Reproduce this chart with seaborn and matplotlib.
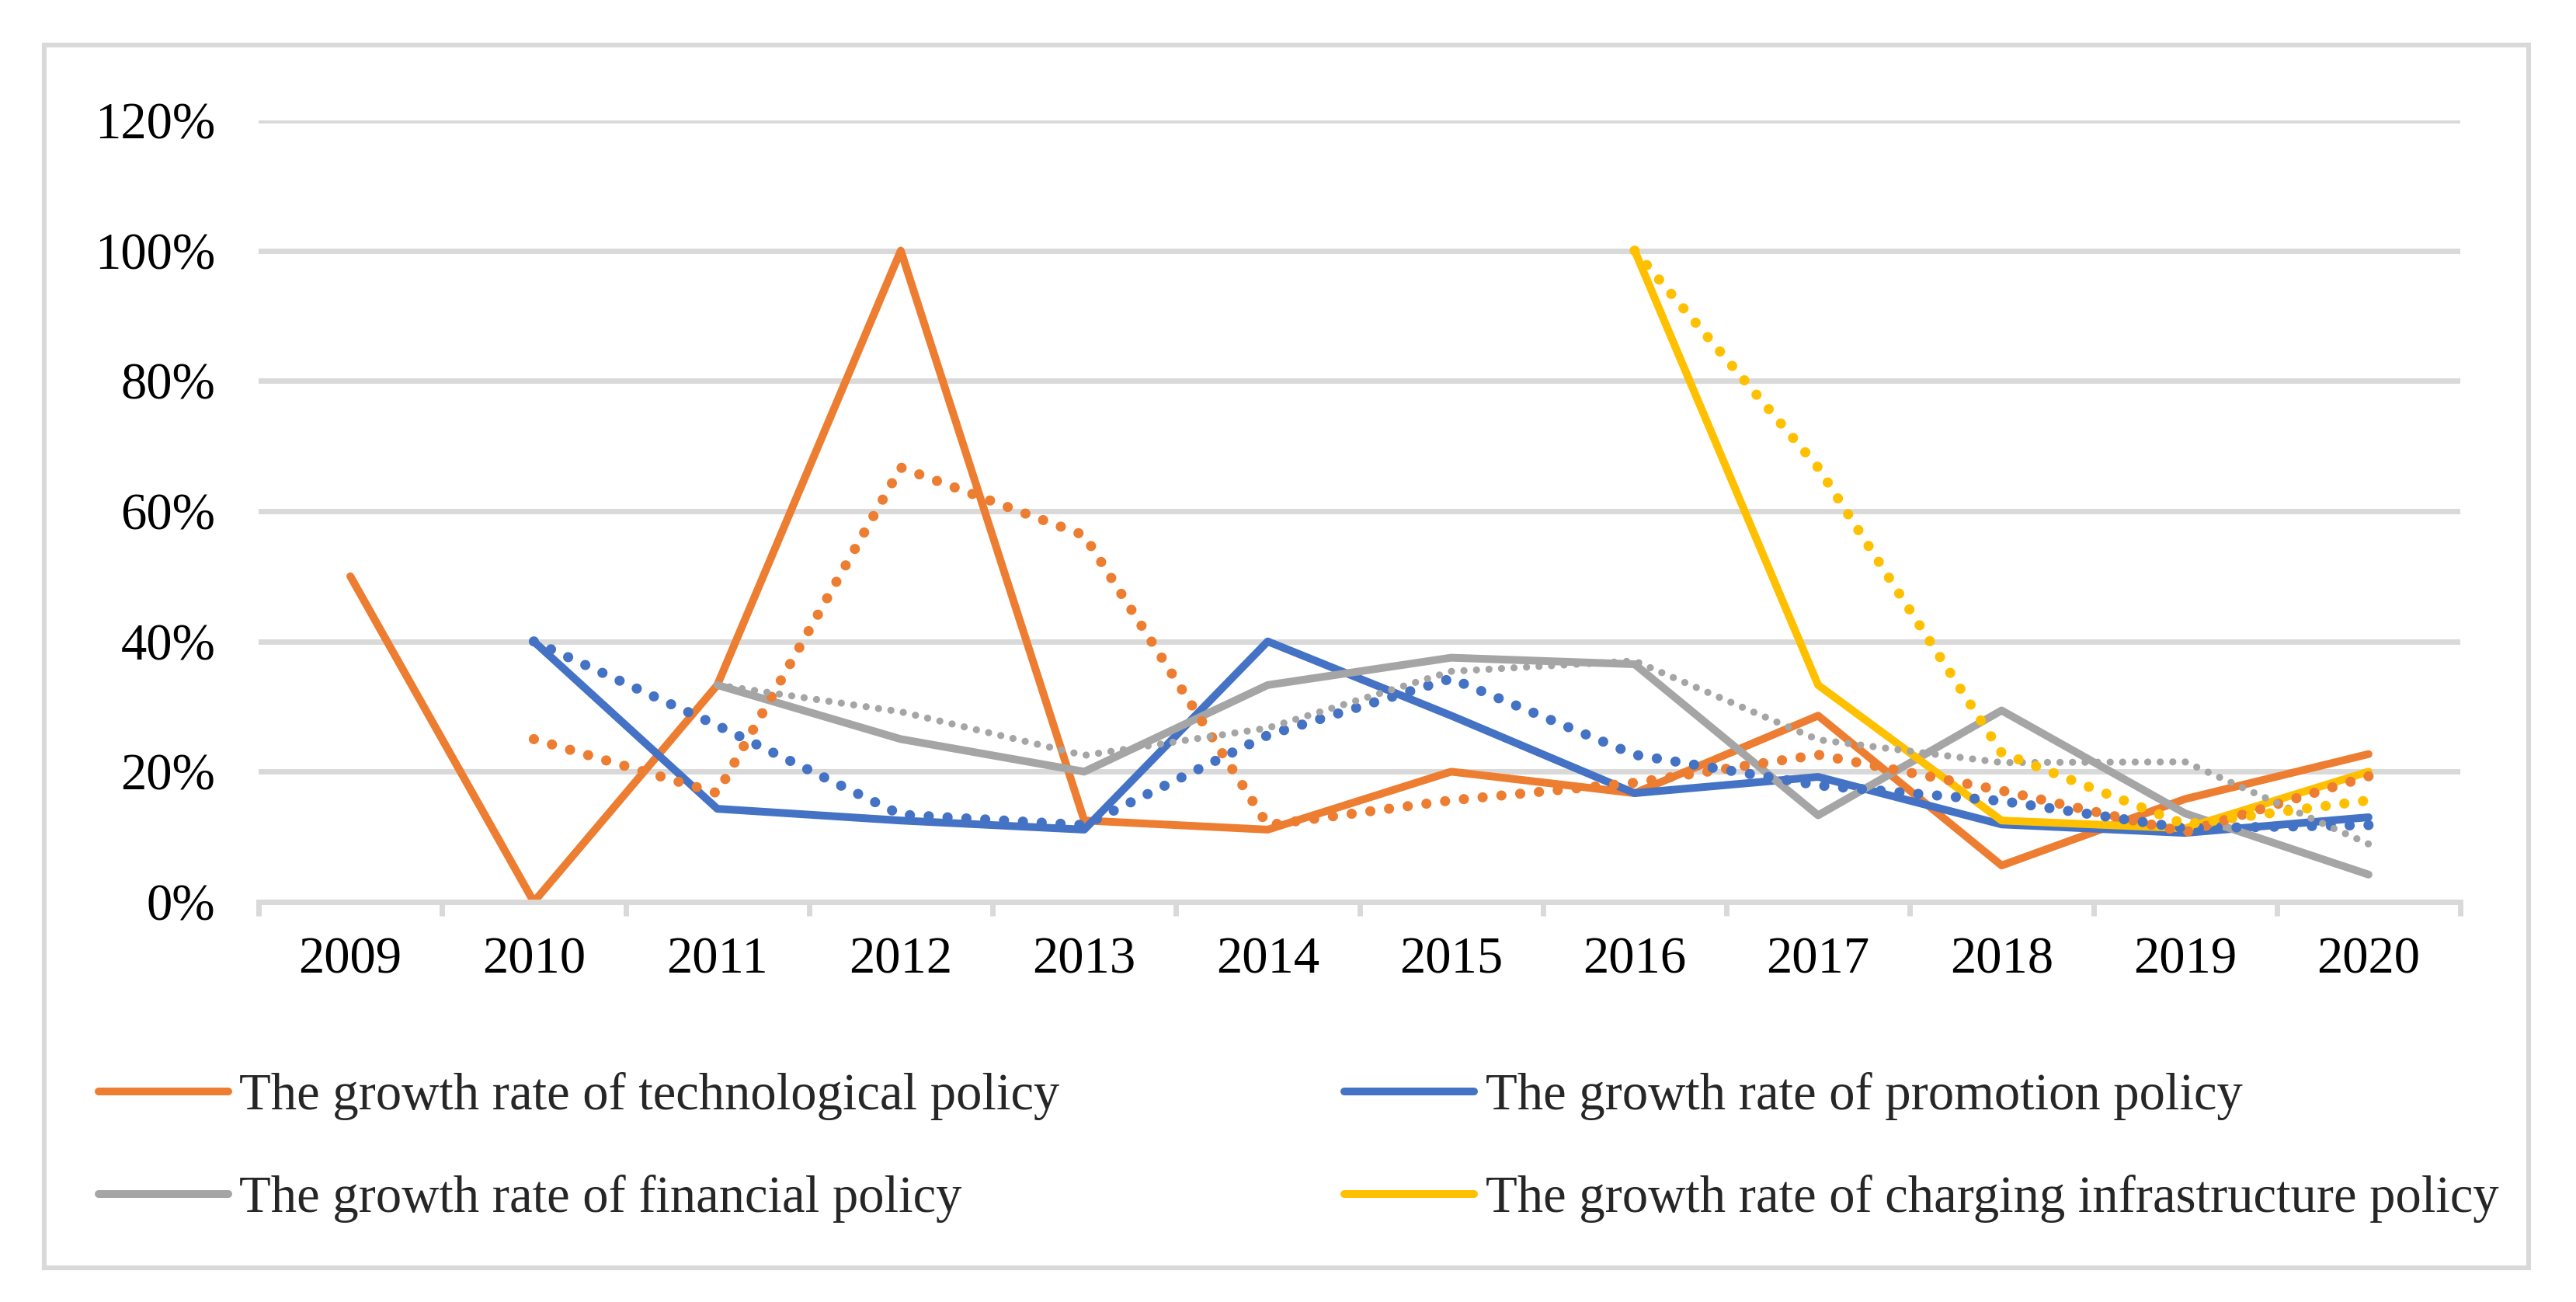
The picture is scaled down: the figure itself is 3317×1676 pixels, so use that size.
import numpy as np
import matplotlib
matplotlib.use("Agg")
import matplotlib.pyplot as plt
import seaborn as sns
from matplotlib.ticker import PercentFormatter, MultipleLocator, FixedLocator
from matplotlib.patches import Rectangle

# Data (growth rates in %)
years = [2009, 2010, 2011, 2012, 2013, 2014, 2015, 2016, 2017, 2018, 2019, 2020]
tech = [50.0, 0.0, 33.3, 100.0, 12.5, 11.1, 20.0, 16.7, 28.6, 5.6, 15.8, 22.7]
promo = [np.nan, 40.0, 14.3, 12.5, 11.1, 40.0, 28.6, 16.7, 19.2, 11.9, 10.6, 13.0]
fin = [np.nan, np.nan, 33.3, 25.0, 20.0, 33.3, 37.5, 36.5, 13.3, 29.4, 13.6, 4.2]
charging = [np.nan, np.nan, np.nan, np.nan, np.nan, np.nan, np.nan, 100.0, 33.3, 12.5, 11.3, 20.0]

# dotted trend lines
tech_trend = [np.nan, 25.0, 16.7, 66.7, 56.3, 11.8, 15.6, 18.3, 22.6, 17.1, 10.7, 19.3]
promo_trend = [np.nan, 40.0, 27.1, 13.4, 11.8, 25.6, 34.3, 22.6, 17.9, 15.5, 11.3, 11.8]
fin_trend = [np.nan, np.nan, 33.3, 29.2, 22.5, 26.7, 35.4, 37.0, 24.9, 21.4, 21.5, 8.9]
charging_trend = [np.nan, np.nan, np.nan, np.nan, np.nan, np.nan, np.nan, 100.0, 66.7, 22.9, 11.9, 15.6]

labels = ["The growth rate of technological policy",
          "The growth rate of promotion policy",
          "The growth rate of financial policy",
          "The growth rate of charging infrastructure policy"]
colors = ["#ED7D31", "#4472C4", "#A5A5A5", "#FFC000"]

sns.set_theme(style="white")
plt.rcParams['font.family'] = ['Liberation Serif', 'DejaVu Serif']

W, H = 3317, 1676
fig = plt.figure(figsize=(W / 200, H / 200), dpi=200)
ax = fig.add_axes([333 / W, 1 - 1161 / H, (3168 - 333) / W, (1161 - 155) / H])

grid_c = "#D9D9D9"
ax.yaxis.grid(True, color=grid_c, lw=2.5)
ax.set_axisbelow(True)

series = [tech, promo, fin, charging]
trends = [tech_trend, promo_trend, fin_trend, charging_trend]

for s, lab, c in zip(series, labels, colors):
    sns.lineplot(x=years, y=s, color=c, lw=3.6, label=lab, ax=ax, legend=False)

for t, c in zip(trends, colors):
    if c == "#A5A5A5":
        lw, gap = 3.3, 1.75
    else:
        lw, gap = 4.7, 1.85
    sns.lineplot(x=years, y=t, color=c, lw=lw, linestyle=(0, (0.01, gap)),
                 dash_capstyle='round', ax=ax, legend=False)

ax.set_xlim(2008.5, 2020.5)
ax.set_ylim(0, 120)
ax.yaxis.set_major_locator(MultipleLocator(20))
ax.yaxis.set_major_formatter(PercentFormatter(xmax=100, decimals=0))
ax.set_xticks(years)
ax.set_xticklabels([str(y) for y in years])
ax.xaxis.set_minor_locator(FixedLocator([y - 0.5 for y in years] + [2020.5]))
ax.tick_params(axis='x', which='major', length=0, pad=16, labelsize=24, colors='black')
ax.tick_params(axis='x', which='minor', length=6.5, width=2.5, color=grid_c, bottom=True)
ax.tick_params(axis='y', length=0, pad=20, labelsize=24, colors='black')

for side in ['top', 'right', 'left']:
    ax.spines[side].set_visible(False)
ax.spines['bottom'].set_color(grid_c)
ax.spines['bottom'].set_linewidth(2.5)
ax.set_xlabel("")
ax.set_ylabel("")

# legend filled row by row: tech, promo / fin, charging
handles, labs = ax.get_legend_handles_labels()
order = [0, 2, 1, 3]
fig.legend([handles[i] for i in order], [labs[i] for i in order], ncol=2, loc='center left',
           bbox_to_anchor=(127 / W, 1 - 1477 / H), frameon=False,
           fontsize=24, handlelength=2.5, handletextpad=0.22,
           columnspacing=5.5, labelspacing=1.05, borderpad=0, borderaxespad=0)

# chart border
fig.patches.append(Rectangle((57 / W, 1 - 1632 / H), (3256 - 57) / W, (1632 - 58) / H,
                             transform=fig.transFigure, fill=False, ec=grid_c, lw=2.2))

fig.savefig("out.png", dpi=200, facecolor="white")
